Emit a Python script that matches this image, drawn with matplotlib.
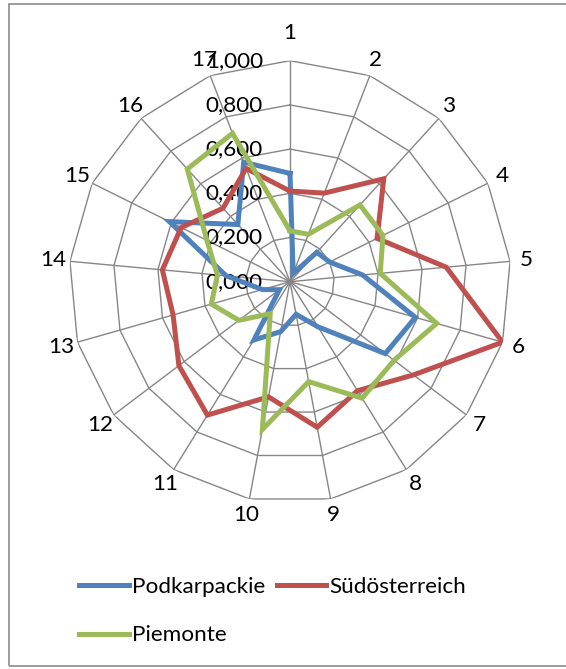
import numpy as np
import matplotlib.pyplot as plt
from matplotlib.patches import Rectangle
from matplotlib.transforms import offset_copy

# categories and series values
categories = [str(i) for i in range(1, 18)]
podkarpackie = [0.49, 0.04, 0.18, 0.20, 0.33, 0.59, 0.54, 0.24, 0.15, 0.23, 0.31, 0.06, 0.13, 0.29, 0.61, 0.35, 0.58]
suedoesterreich = [0.41, 0.43, 0.63, 0.44, 0.71, 1.00, 0.70, 0.58, 0.67, 0.53, 0.71, 0.63, 0.55, 0.58, 0.55, 0.45, 0.55]
piemonte = [0.23, 0.23, 0.47, 0.47, 0.41, 0.69, 0.59, 0.62, 0.46, 0.68, 0.17, 0.29, 0.37, 0.33, 0.42, 0.69, 0.72]
series_names = ['Podkarpackie', 'Südösterreich', 'Piemonte']
series_colors = ['#4F81BD', '#C0504D', '#9BBB59']
ring_levels = [0.0, 0.2, 0.4, 0.6, 0.8, 1.0]
ring_labels = ['0,000', '0,200', '0,400', '0,600', '0,800', '1,000']

plt.rcParams['font.family'] = ['Lato', 'DejaVu Sans']
fs = 16.2

W, H = 566, 669
fig = plt.figure(figsize=(W / 100, H / 100), dpi=100)

# outer frame (right edge is cut off in the original)
fig.patches.append(Rectangle((9 / W, 1 - 666 / H), 1, (666 - 4) / H, transform=fig.transFigure,
                             fill=False, edgecolor='#8c8c8c', linewidth=1.2))

cx, cy, R = 290, 281.7, 221
ax = fig.add_axes([(cx - R) / W, (H - cy - R) / H, 2 * R / W, 2 * R / H], projection='polar')
ax.set_theta_zero_location('N')
ax.set_theta_direction(-1)
ax.set_ylim(0, 1.0)
ax.grid(False)
ax.spines['polar'].set_visible(False)
ax.set_xticks([])
ax.set_yticks([])
ax.patch.set_alpha(0)

n = len(categories)
angles = np.arange(n) * 2 * np.pi / n
closed = np.append(angles, angles[0])

# polygon grid
grid_col = '#868686'
for lv in ring_levels[1:]:
    ax.plot(closed, [lv] * (n + 1), color=grid_col, lw=1.0, zorder=1)
for a in angles:
    ax.plot([a, a], [0, 1.0], color=grid_col, lw=1.0, zorder=1)

# ring value labels left of first axis
tr = offset_copy(ax.transData, fig=fig, x=-27, y=0, units='dots')
for lv, lab in zip(ring_levels, ring_labels):
    ax.text(0, lv, lab, transform=tr, ha='right', va='center', fontsize=fs, color='black', zorder=2)

# category labels
for a, lab in zip(angles, categories):
    r = 1.125 if lab == '1' else 1.075
    ax.text(a, r, lab, ha='center', va='center', fontsize=fs, color='black', clip_on=False)

lines = []
for vals, name, col in zip([podkarpackie, suedoesterreich, piemonte], series_names, series_colors):
    ln, = ax.plot(closed, vals + vals[:1], color=col, lw=3.6, label=name, zorder=3,
                  solid_joinstyle='miter')
    lines.append(ln)

# legend filled row by row: Podkarpackie, Südösterreich / Piemonte
order = [0, 2, 1]
fig.legend([lines[i] for i in order], [series_names[i] for i in order],
           loc='upper left', bbox_to_anchor=(59 / W, 1 - 557 / H), ncol=2,
           frameon=False, fontsize=fs, handlelength=2.2, handletextpad=0.15,
           columnspacing=0.5, labelspacing=1.25)

fig.savefig('out.png', dpi=100)
